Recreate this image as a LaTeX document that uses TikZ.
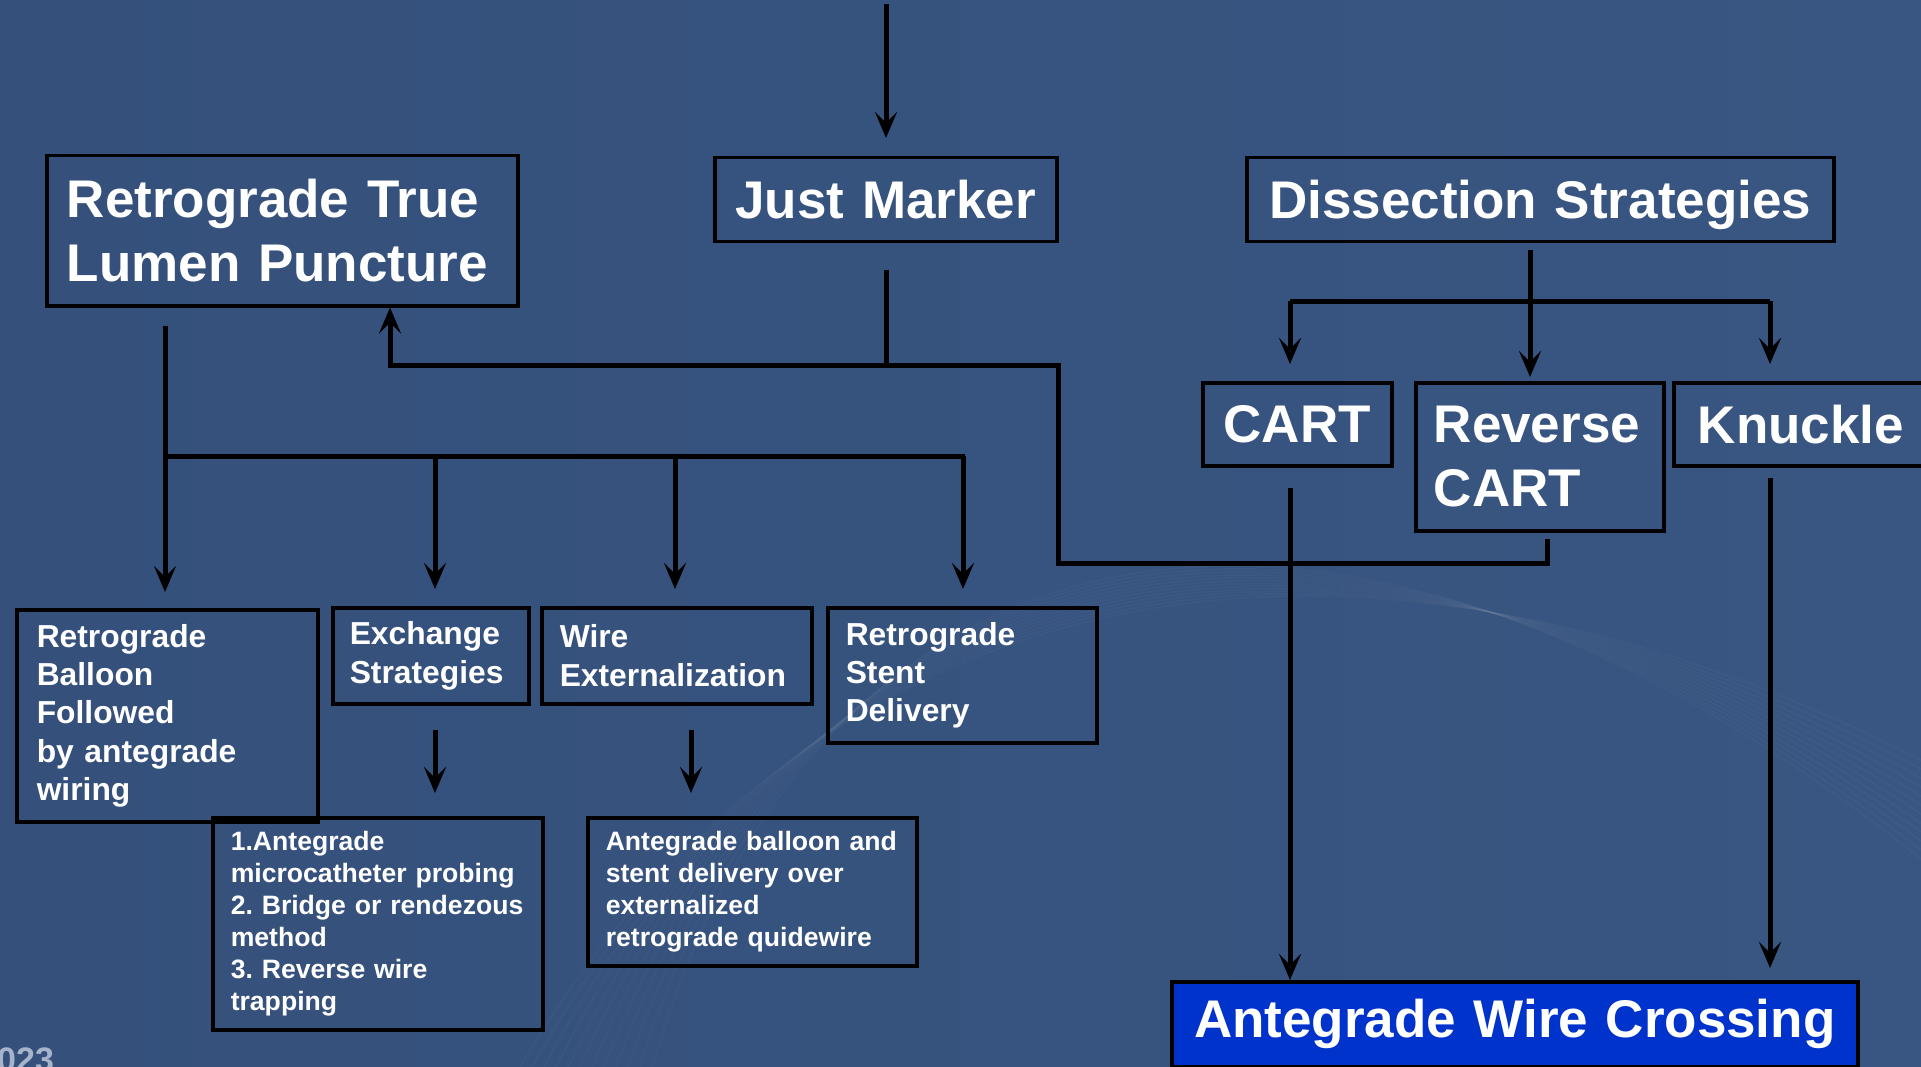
\documentclass[tikz,border=0pt]{standalone}
\usepackage{fontspec}
\setmainfont{Liberation Sans}
\usetikzlibrary{arrows.meta,calc}
\definecolor{bgl}{RGB}{52,80,123}
\definecolor{bgr}{RGB}{57,86,130}
\definecolor{awcblue}{RGB}{0,51,204}
\definecolor{yeargray}{RGB}{165,180,202}
\frenchspacing
\hyphenpenalty=10000
\exhyphenpenalty=10000
\begin{document}
\begin{tikzpicture}[x=1pt,y=-1pt,
  box/.style={draw=black, line width=3.5pt, text=white, align=left,
    inner ysep=0pt, inner xsep=20pt, anchor=north west},
  bigtxt/.style={font=\bfseries\fontsize{53}{64}\selectfont},
  midtxt/.style={font=\bfseries\fontsize{31.8}{38.3}\selectfont},
  smalltxt/.style={font=\bfseries\fontsize{26.6}{31.9}\selectfont},
  conn/.style={draw=black, line width=5pt},
  arr/.style={conn, -{Stealth[length=26pt,width=22pt,inset=11pt]}}]
\useasboundingbox (0,0) rectangle (1921,1067);
\clip (0,0) rectangle (1921,1067);
\shade[left color=bgl, right color=bgr] (0,0) rectangle (1921,1067);
% faint background waves
\foreach \i in {0,...,11}{
  \draw[white, opacity=0.025, line width=1.6pt]
    (520+\i*12,1067) .. controls (820,560-\i*7) and (1350,470-\i*6) .. (1921,760+\i*9);
}
\node[anchor=north west, inner sep=0pt, text=yeargray,
  font=\bfseries\fontsize{34}{34}\selectfont] (yr) at (-3,1048) {023};

% top row
\node[box, bigtxt, minimum width=471pt, minimum height=150pt, text width=431pt] (rtlp) at (45,154) {Retrograde True\\Lumen Puncture};
\node[box, bigtxt, align=center, minimum width=342pt, minimum height=84pt, text width=302pt] (jm) at (713,156) {Just Marker};
\node[box, bigtxt, align=center, text depth=0pt, minimum width=587pt, minimum height=84pt, text width=547pt] (ds) at (1245,156) {Dissection Strategies};

% dissection children
\node[box, bigtxt, align=center, minimum width=189pt, minimum height=83pt, text width=160pt, inner xsep=14.5pt] (cart) at (1201,381) {CART};
\node[box, bigtxt, minimum width=248pt, minimum height=148pt, text width=212pt, inner xsep=18pt] (rcart) at (1414,381) {Reverse\\CART};
\node[box, bigtxt, minimum width=268pt, minimum height=83pt, text width=220pt, inner xsep=24pt] (knuckle) at (1672,381) {Knuckle};

% final box
\node[box, bigtxt, align=center, fill=awcblue, minimum width=686pt, minimum height=85pt, text width=656pt, inner xsep=15pt] (awc) at (1170,980) {Antegrade Wire Crossing};

% retrograde children
\node[box, midtxt, minimum width=301pt, minimum height=212pt, text width=261pt] (rb) at (15,608) {Retrograde\\Balloon\\Followed\\by antegrade\\wiring};
\node[box, midtxt, minimum width=196pt, minimum height=96pt, text width=162pt, inner xsep=17pt] (es) at (331,606) {Exchange\\Strategies};
\node[box, midtxt, minimum width=270pt, minimum height=96pt, text width=234pt, inner xsep=18pt] (we) at (540,606) {Wire\\Externalization};
\node[box, midtxt, minimum width=269pt, minimum height=135pt, text width=233pt, inner xsep=18pt] (rsd) at (826,606) {Retrograde\\Stent\\Delivery};

% detail boxes
\node[box, smalltxt, minimum width=330pt, minimum height=212pt, text width=304pt, inner xsep=13pt] (ant1) at (211,816) {\hspace*{5pt}1.Antegrade\\\hspace*{5pt}microcatheter probing\\\hspace*{5pt}2. Bridge or rendezous\\\hspace*{5pt}method\\\hspace*{5pt}3. Reverse wire\\\hspace*{5pt}trapping};
\node[box, smalltxt, minimum width=329pt, minimum height=148pt, text width=303pt, inner xsep=13pt] (ab) at (586,816) {\hspace*{5pt}Antegrade balloon and\\\hspace*{5pt}stent delivery over\\\hspace*{5pt}externalized\\\hspace*{5pt}retrograde quidewire};

% ---- connectors ----
\coordinate (src) at (886,4);
\draw[arr, shorten >=18pt] (src) -- (src |- jm.north);

\coordinate (jmj) at (886,365);
\coordinate (jmr) at (390,365);
\coordinate (rj) at (1058,365);
\draw[arr] (jmj |- jm.south) ++(0,27) -- (jmj) -- (jmr) -- (jmr |- rtlp.south);
\draw[conn] ([xshift=8pt,yshift=-6pt]rcart.south) -- ++(0,25) -| (rj) -- (jmj);

% retrograde true lumen puncture branches
\coordinate (b1) at (165,456);
\coordinate (b2) at (435,456);
\coordinate (b3) at (675,456);
\coordinate (b4) at (965,456);
\draw[conn] ([yshift=-18pt]rtlp.south -| b1) -- (b1) -- (b4);
\draw[arr, shorten >=16pt] (b1) -- (b1 |- rb.north);
\draw[arr, shorten >=17pt] (b2) -- (b2 |- es.north);
\draw[arr, shorten >=17pt] (b3) -- (b3 |- we.north);
\draw[arr, shorten >=17pt] ([xshift=-2pt]b4) -- ([xshift=-2pt]b4 |- rsd.north);

\draw[arr, shorten <=24pt, shorten >=23pt] (b2 |- es.south) -- (b2 |- ant1.north);
\coordinate (wx) at (691,700);
\draw[arr, shorten <=24pt, shorten >=23pt] (wx |- we.south) -- (wx |- ab.north);

% dissection branches
\coordinate (dm) at (1530,301);
\coordinate (dl) at (1290,301);
\coordinate (dr) at (1770,301);
\draw[arr, shorten <=7pt, shorten >=4pt] (dm |- ds.south) -- (dm |- rcart.north);
\draw[conn] (dl) -- (dr);
\draw[arr, shorten >=17pt] (dl) -- (dl |- cart.north);
\draw[arr, shorten >=17pt] (dr) -- (dr |- knuckle.north);

\draw[arr, shorten <=20pt] (dl |- cart.south) -- (dl |- awc.north);
\draw[arr, shorten <=10pt, shorten >=12pt] (dr |- knuckle.south) -- (dr |- awc.north);
\end{tikzpicture}
\end{document}
